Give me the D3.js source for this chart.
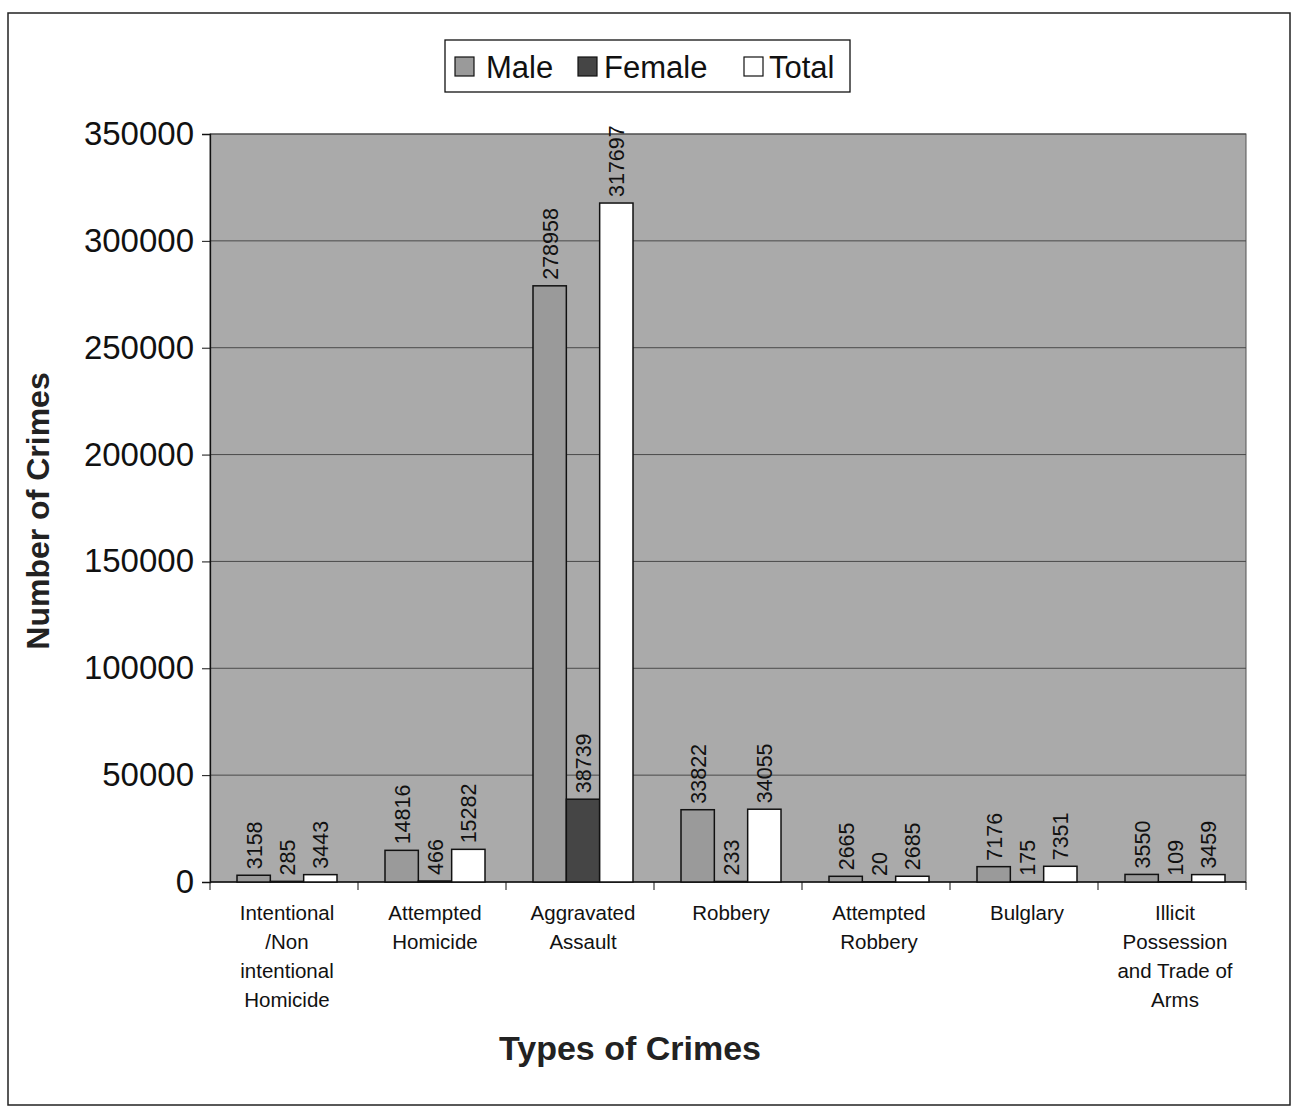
<!DOCTYPE html>
<html>
<head>
<meta charset="utf-8">
<script src="https://cdn.jsdelivr.net/npm/d3@7"></script>
<style>
  body { margin: 0; background: #fff; font-family: "Liberation Sans", Arial, sans-serif; }
</style>
</head>
<body>
<div id="chart"></div>
<script>
// data
const categories = [
  ["Intentional", "/Non", "intentional", "Homicide"],
  ["Attempted", "Homicide"],
  ["Aggravated", "Assault"],
  ["Robbery"],
  ["Attempted", "Robbery"],
  ["Bulglary"],
  ["Illicit", "Possession", "and Trade of", "Arms"]
];
const maleValues   = [3158, 14816, 278958, 33822, 2665, 7176, 3550];
const femaleValues = [285, 466, 38739, 233, 20, 175, 109];
const totalValues  = [3443, 15282, 317697, 34055, 2685, 7351, 3459];
const seriesNames  = ["Male", "Female", "Total"];
const yTicks = [0, 50000, 100000, 150000, 200000, 250000, 300000, 350000];

const width = 1299, height = 1108;
const plot = { left: 210, right: 1246, top: 134, bottom: 882 };

const svg = d3.select("#chart").append("svg")
    .attr("width", width)
    .attr("height", height);

// outer chart frame
svg.append("rect")
    .attr("x", 8).attr("y", 13)
    .attr("width", 1282).attr("height", 1092)
    .attr("fill", "#fff")
    .attr("stroke", "#222")
    .attr("stroke-width", 1.5);

const x = d3.scaleBand()
    .domain(d3.range(categories.length))
    .range([plot.left, plot.right]);

const xInner = d3.scaleBand()
    .domain(seriesNames)
    .range([0, x.bandwidth()])
    .paddingOuter(0.72);

const y = d3.scaleLinear()
    .domain([0, 350000])
    .range([plot.bottom, plot.top]);

const colors = { Male: "#9a9a9a", Female: "#454545", Total: "#ffffff" };

// plot background
svg.append("rect")
    .attr("x", plot.left).attr("y", plot.top)
    .attr("width", plot.right - plot.left)
    .attr("height", plot.bottom - plot.top)
    .attr("fill", "#aaaaaa")
    .attr("stroke", "#555")
    .attr("stroke-width", 1);

// gridlines
svg.append("g")
    .selectAll("line")
    .data(yTicks.slice(1))
    .join("line")
    .attr("x1", plot.left).attr("x2", plot.right)
    .attr("y1", d => y(d)).attr("y2", d => y(d))
    .attr("stroke", "#4a4a4a")
    .attr("stroke-width", 1);

// y axis
const yAxis = svg.append("g")
    .attr("transform", `translate(${plot.left},0)`)
    .call(d3.axisLeft(y).tickValues(yTicks).tickSize(8).tickPadding(8).tickFormat(d3.format("d")));
yAxis.select(".domain").attr("stroke", "#111").attr("stroke-width", 1.3);
yAxis.selectAll(".tick line").attr("stroke", "#111");
yAxis.selectAll("text")
    .style("font-size", "33px")
    .style("font-family", "'Liberation Sans', Arial, sans-serif")
    .attr("fill", "#111");

// x axis line with ticks at category boundaries
const xAxisG = svg.append("g");
xAxisG.append("line")
    .attr("x1", plot.left).attr("x2", plot.right)
    .attr("y1", plot.bottom).attr("y2", plot.bottom)
    .attr("stroke", "#111").attr("stroke-width", 1.3);
xAxisG.selectAll("line.tk")
    .data(d3.range(categories.length + 1))
    .join("line")
    .attr("class", "tk")
    .attr("x1", d => plot.left + d * x.step())
    .attr("x2", d => plot.left + d * x.step())
    .attr("y1", plot.bottom).attr("y2", plot.bottom + 8)
    .attr("stroke", "#111");

// category labels
const catLabels = svg.append("g")
    .selectAll("text")
    .data(categories)
    .join("text")
    .attr("x", (d, i) => x(i) + x.bandwidth() / 2 + 3)
    .attr("y", 920)
    .attr("text-anchor", "middle")
    .style("font-size", "20.5px")
    .attr("fill", "#111");
catLabels.selectAll("tspan")
    .data(d => d)
    .join("tspan")
    .attr("x", function() { return d3.select(this.parentNode).attr("x"); })
    .attr("dy", (d, i) => i === 0 ? 0 : 29)
    .text(d => d);

// bars
const rows = categories.map((c, i) => [
  { key: "Male", value: maleValues[i] },
  { key: "Female", value: femaleValues[i] },
  { key: "Total", value: totalValues[i] }
]);

const groups = svg.append("g")
    .selectAll("g")
    .data(rows)
    .join("g")
    .attr("transform", (d, i) => `translate(${x(i) + 3},0)`);

groups.selectAll("rect")
    .data(d => d)
    .join("rect")
    .attr("x", d => xInner(d.key))
    .attr("y", d => y(d.value))
    .attr("width", xInner.bandwidth())
    .attr("height", d => y(0) - y(d.value))
    .attr("fill", d => colors[d.key])
    .attr("stroke", "#111")
    .attr("stroke-width", 1.5);

// value labels (rotated)
groups.selectAll("text")
    .data(d => d)
    .join("text")
    .attr("transform", d => `translate(${xInner(d.key) + xInner.bandwidth() / 2 + 8},${y(d.value) - 6}) rotate(-90)`)
    .attr("text-anchor", "start")
    .style("font-size", "21.5px")
    .attr("fill", "#111")
    .text(d => d.value);

// axis titles
svg.append("text")
    .attr("transform", `translate(49,${(plot.top + plot.bottom) / 2 + 3}) rotate(-90)`)
    .attr("text-anchor", "middle")
    .style("font-size", "32px")
    .style("font-weight", "bold")
    .attr("fill", "#222")
    .text("Number of Crimes");

svg.append("text")
    .attr("x", 630)
    .attr("y", 1060)
    .attr("text-anchor", "middle")
    .style("font-size", "34px")
    .style("font-weight", "bold")
    .attr("fill", "#222")
    .text("Types of Crimes");

// legend
const legend = svg.append("g");
legend.append("rect")
    .attr("x", 445).attr("y", 40)
    .attr("width", 405).attr("height", 52)
    .attr("fill", "#fff")
    .attr("stroke", "#111")
    .attr("stroke-width", 1.3);

const legendItems = [
  { key: "Male", x: 455, tx: 486 },
  { key: "Female", x: 578, tx: 604 },
  { key: "Total", x: 744, tx: 769 }
];
legend.selectAll("rect.sw")
    .data(legendItems)
    .join("rect")
    .attr("class", "sw")
    .attr("x", d => d.x).attr("y", 57)
    .attr("width", 19).attr("height", 19)
    .attr("fill", d => colors[d.key])
    .attr("stroke", "#111")
    .attr("stroke-width", 1.2);
legend.selectAll("text")
    .data(legendItems)
    .join("text")
    .attr("x", d => d.tx).attr("y", 78)
    .style("font-size", "31px")
    .attr("fill", "#111")
    .text(d => d.key);
</script>
</body>
</html>
